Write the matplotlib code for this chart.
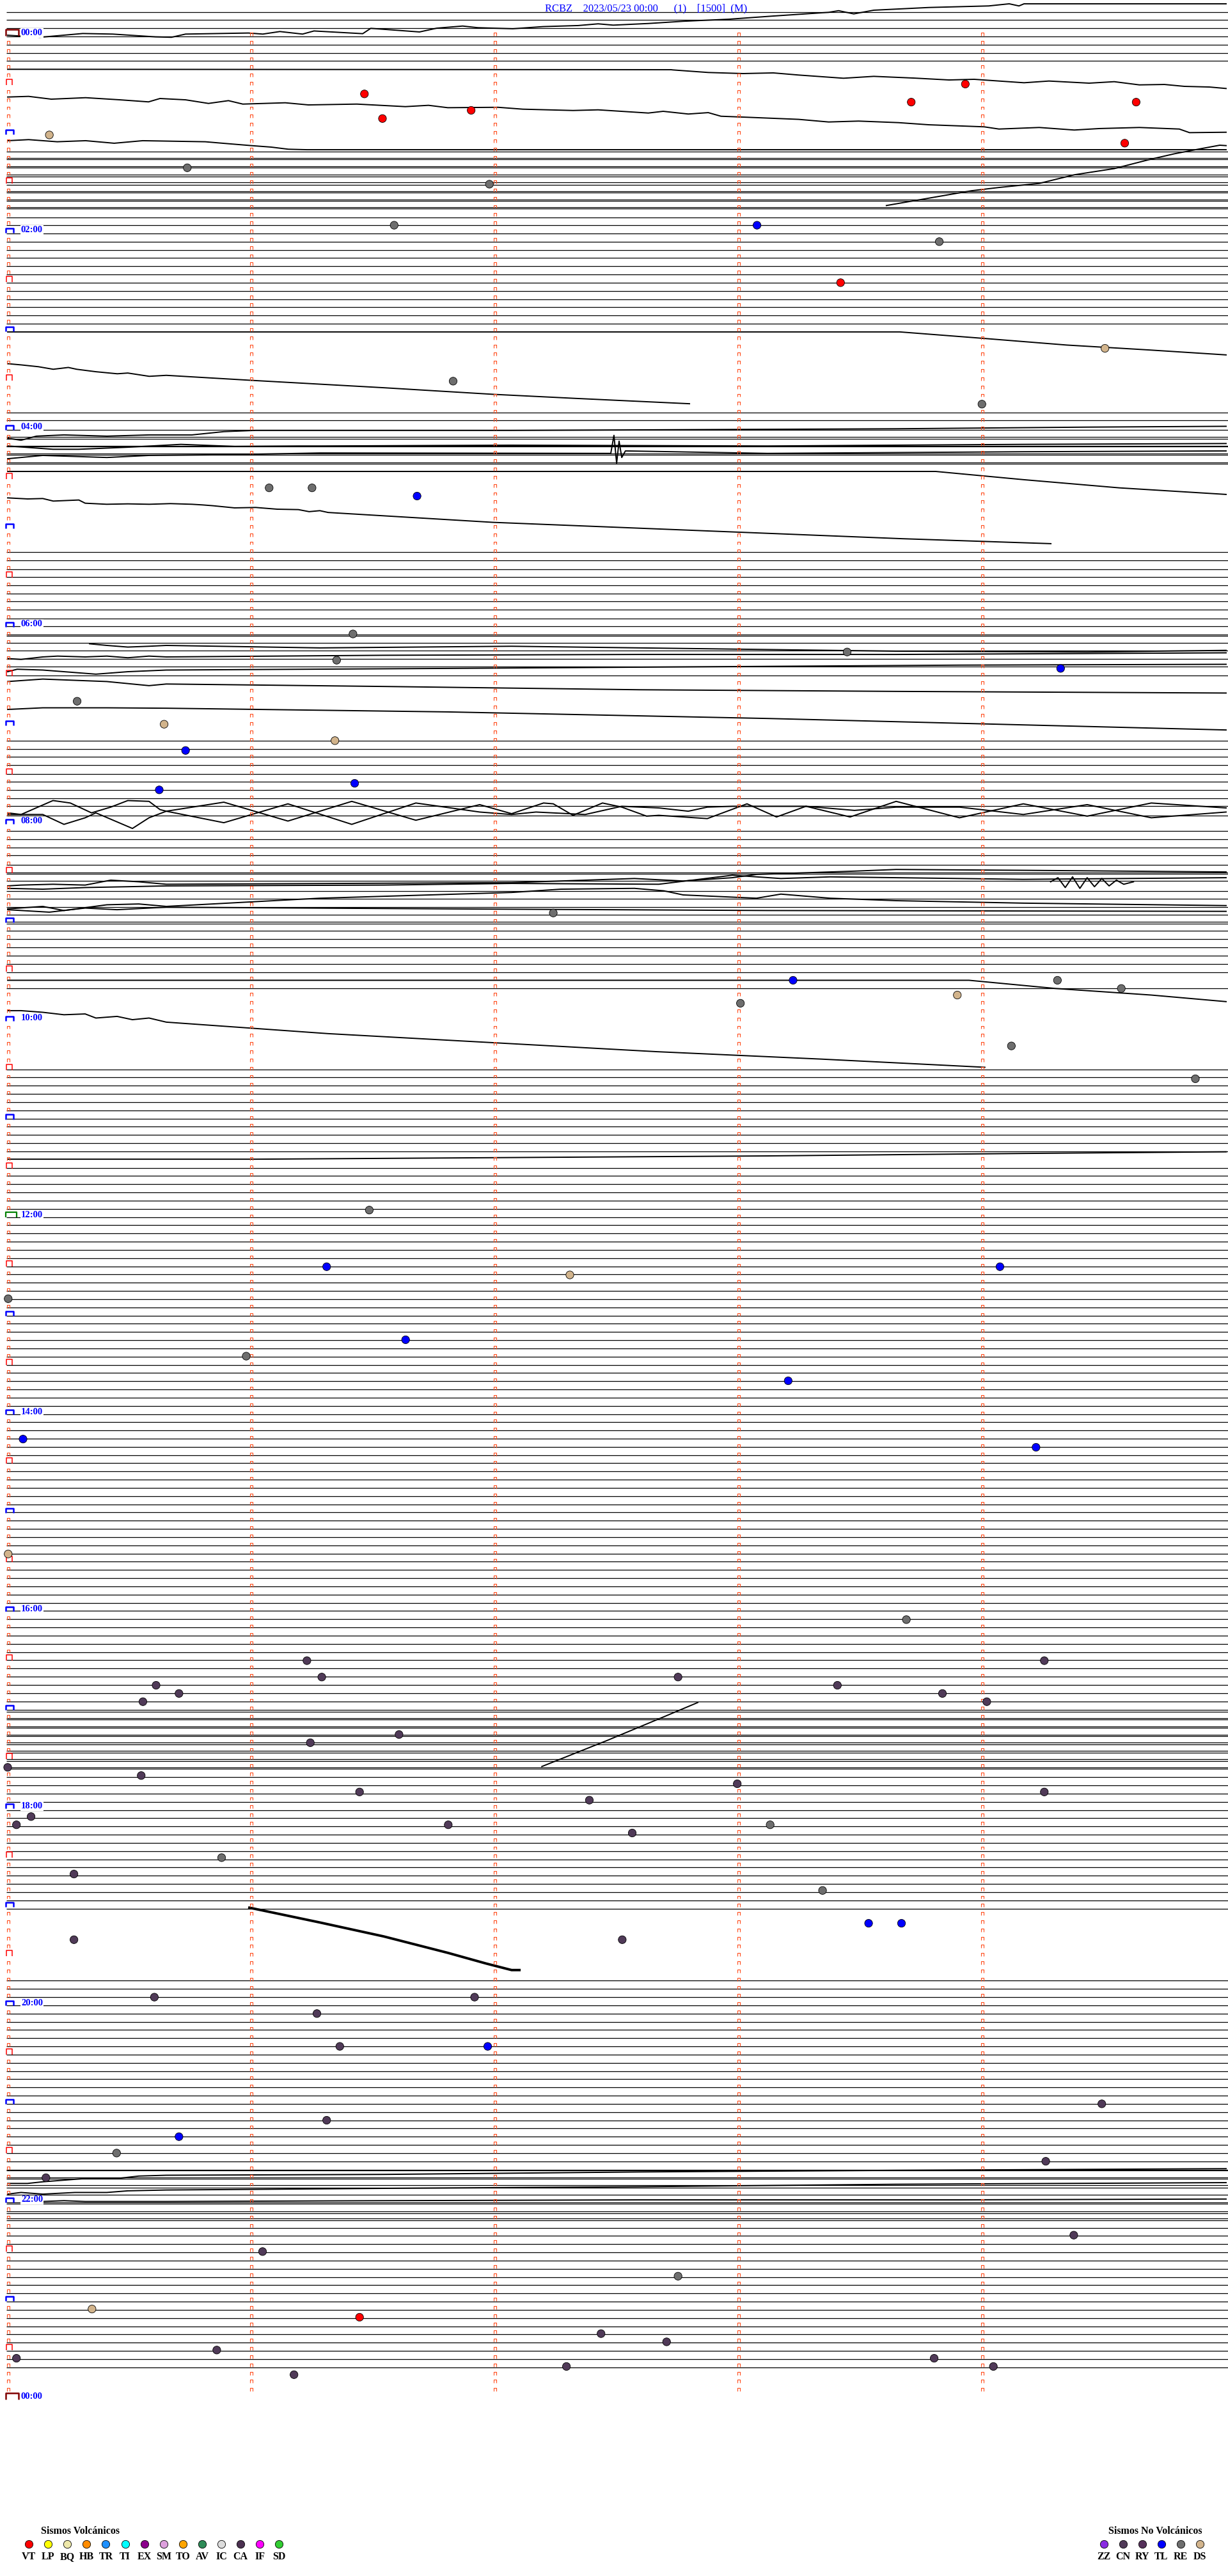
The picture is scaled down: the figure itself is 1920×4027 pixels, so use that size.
import matplotlib
matplotlib.use("Agg")
import matplotlib.pyplot as plt
from matplotlib.collections import LineCollection

# ---------------------------------------------------------------
# Helicorder RCBZ 2023/05/23 - one row = 5 minutes, 288 rows a day
# x = minute inside the row (0-5), y = row number (0 = 00:00)
# ---------------------------------------------------------------

# rows where the trace is clipped (flat line), row units
flat_00h = [-3, -2, -1, 0, 1, 2, 3, 14.0, 14.8, 15.0, 15.8, 16.0, 16.85, 17.05,
            17.8, 18.05, 18.85, 19.0, 19.85, 20.0, 20.8, 21.0, 22.05, 23.0]
flat_02h = [24, 25, 26, 27, 28, 29, 30, 31, 32, 33, 34, 35, 45.8, 46.8, 47.9]
flat_04h = [48.8, 49.0, 49.9, 50.0, 50.8, 51.0, 51.9, 52.1,
            62.8, 63.8, 64.9, 65.9, 66.9, 67.9, 68.8, 69.8, 70.9, 71.9]
flat_06h = [72.9, 73.0, 73.9, 74.8, 75.8, 76.8, 77.9, 85.8, 86.8, 87.8, 88.8,
            89.9, 90.8, 91.8, 92.8, 93.8, 94.9]
flat_08h = [96.8, 97.8, 98.8, 99.8, 100.9, 101.9, 102.0, 102.9, 104.1, 105.1,
            106.1, 107.0, 107.9, 108.1, 109.0, 110.0, 111.0, 112.0, 113.0,
            114.0, 116.0]
rows_10_17h = [r for r in range(126, 204) if r != 137]      # clipped rows
rows_17h_double = list(range(204, 212))                     # double clipped
rows_17_19h = list(range(212, 229))
rows_20_21h = list(range(237, 260))
flat_22h = [259.9, 260.0, 260.9, 261.0, 261.8, 262.1, 263.0, 263.9, 264.1,
            265.0, 265.2, 265.9, 266.1]
rows_22_24h = list(range(267, 285))

# drifting / active traces: (minute, row)
tr_00a = [(0, -0.15), (0.133, 0.1), (0.308, -0.36), (0.431, -0.29), (0.607, 0.05),
          (0.672, 0.1), (0.73, -0.29), (0.988, -0.42), (1.047, -0.29),
          (1.117, -0.6), (1.21, -0.29), (1.257, -0.67), (1.457, -0.34),
          (1.49, -0.99), (1.69, -0.55), (1.761, -1.01), (1.867, -1.27),
          (1.929, -1.07), (2.073, -0.94), (2.197, -1.2), (2.341, -1.33),
          (2.423, -1.54), (2.485, -1.38), (2.629, -1.58), (2.772, -1.85),
          (2.958, -2.1), (3.142, -2.49), (3.369, -2.94), (3.41, -3.14),
          (3.472, -2.75), (3.554, -3.2), (3.78, -3.53), (4.026, -3.72),
          (4.11, -3.98), (4.15, -3.72), (4.171, -3.98), (5.0, -3.98)]
tr_00b = [(0, 4.0), (2.722, 4.05), (2.731, 4.08), (2.875, 4.39), (3.018, 4.52),
          (3.142, 4.44), (3.246, 4.7), (3.43, 5.09), (3.554, 4.86), (3.719, 5.07),
          (3.863, 5.3), (3.966, 5.22), (4.068, 5.43), (4.171, 5.64), (4.273, 5.43),
          (4.438, 5.69), (4.541, 5.51), (4.644, 5.9), (4.747, 5.85), (4.829, 6.08),
          (4.932, 6.16), (5.0, 6.34)]
tr_00c = [(0, 7.38), (0.086, 7.3), (0.179, 7.64), (0.32, 7.46), (0.461, 7.72),
          (0.578, 7.97), (0.625, 7.56), (0.73, 7.72), (0.824, 8.16), (0.906, 7.82),
          (0.965, 8.24), (1.139, 8.08), (1.234, 8.34), (1.433, 8.24), (1.632, 8.55),
          (1.727, 8.39), (1.806, 8.68), (2.012, 8.63), (2.114, 8.86), (2.32, 9.02),
          (2.423, 8.94), (2.629, 9.33), (2.69, 9.12), (2.793, 9.45), (2.875, 9.28),
          (2.927, 9.72), (3.04, 9.85), (3.246, 10.1), (3.369, 10.42),
          (3.492, 10.31), (3.656, 10.5), (3.78, 10.76), (4.007, 11.01),
          (4.068, 11.28), (4.233, 11.09), (4.377, 11.4), (4.48, 11.22),
          (4.644, 11.09), (4.808, 11.28), (4.85, 11.72), (5.0, 11.67)]
tr_00d = [(0, 12.7), (0.086, 12.57), (0.203, 12.83), (0.32, 12.7), (0.437, 13.01),
          (0.554, 12.7), (0.811, 12.83), (0.882, 13.01), (1.0, 13.3),
          (1.081, 13.48), (1.152, 13.74), (1.228, 13.8), (5.0, 13.8)]
tr_01a = [(3.606, 20.6), (3.955, 18.8), (4.068, 18.4), (4.234, 17.9),
          (4.378, 16.85), (4.541, 16.1), (4.685, 15.0), (4.787, 14.3),
          (4.892, 13.7), (4.974, 13.25), (5.0, 13.3)]
tr_03a = [(0, 36.0), (3.661, 36.0), (4.01, 36.8), (4.346, 37.6), (4.685, 38.2),
          (5.0, 38.8)]
tr_03b = [(0, 39.87), (0.056, 40.02), (0.126, 40.24), (0.187, 40.55), (0.249, 40.33),
          (0.283, 40.55), (0.362, 40.85), (0.45, 41.1), (0.493, 41.01),
          (0.581, 41.41), (0.651, 41.29), (1.0, 41.9), (1.543, 42.8),
          (1.99, 43.6), (2.331, 44.1), (2.798, 44.75)]
tr_04a = [(0, 48.95), (0.055, 49.2), (0.118, 48.7), (0.231, 48.55), (0.407, 48.7),
          (0.58, 48.55), (0.756, 48.55), (0.887, 48.15), (1.018, 48.0),
          (1.281, 48.0), (2.068, 48.0), (2.856, 47.9), (3.643, 47.8),
          (4.43, 47.6), (5.0, 47.5)]
tr_04b = [(0, 49.9), (0.186, 50.3), (0.291, 50.3), (0.493, 50.05), (0.711, 49.7),
          (0.932, 49.95), (1.194, 49.9), (1.281, 49.9), (2.068, 49.8),
          (3.118, 49.9), (4.168, 49.7), (5.0, 49.6)]
tr_04c = [(0, 51.45), (0.144, 51.05), (0.407, 51.3), (0.58, 51.05), (0.932, 50.95),
          (1.018, 50.9), (1.281, 50.75), (2.475, 50.8), (2.488, 48.6),
          (2.499, 52.0), (2.509, 49.3), (2.52, 51.3), (2.535, 50.5),
          (3.118, 50.8), (4.168, 50.6), (5.0, 50.5)]
tr_04d = [(0, 53.0), (3.808, 53.0), (4.168, 54.0), (4.562, 55.0), (5.0, 55.8)]
tr_04e = [(0, 56.22), (0.082, 56.35), (0.144, 56.3), (0.187, 56.61), (0.292, 56.48),
          (0.318, 56.87), (0.406, 57.0), (0.493, 56.95), (0.581, 57.0),
          (0.668, 56.92), (0.756, 57.0), (0.8, 57.08), (0.843, 57.18),
          (0.931, 57.44), (1.018, 57.39), (1.106, 57.6), (1.193, 57.65),
          (1.237, 57.9), (1.281, 57.78), (1.315, 58.0), (1.99, 59.2), (3.0, 60.4),
          (3.675, 61.2), (4.281, 61.8)]
tr_06a = [(0.336, 74.0), (0.407, 74.2), (0.493, 74.4), (0.58, 74.3), (0.651, 74.2),
          (1.281, 74.5), (2.068, 74.3), (2.856, 74.6), (3.643, 74.9),
          (4.43, 75.0), (5.0, 74.8)]
tr_06b = [(0, 75.8), (0.055, 75.9), (0.144, 75.6), (0.205, 75.5), (0.318, 75.6),
          (0.407, 75.5), (0.493, 75.7), (0.58, 75.5), (0.651, 75.6),
          (1.543, 75.4), (2.593, 75.3), (3.643, 75.3), (5.0, 75.1)]
tr_06c = [(0, 77.4), (0.039, 77.1), (0.144, 77.2), (0.362, 77.7), (0.493, 77.4),
          (0.651, 77.2), (1.806, 77.0), (2.856, 76.8), (3.906, 76.6), (5.0, 76.5)]
tr_06d = [(0, 78.6), (0.144, 78.3), (0.407, 78.6), (0.58, 79.1), (0.651, 78.9),
          (1.543, 79.2), (2.593, 79.6), (3.643, 79.8), (5.0, 80.0)]
tr_06e = [(0, 82.0), (0.144, 81.8), (0.407, 81.8), (0.651, 81.85), (1.806, 82.3),
          (3.118, 83.1), (5.0, 84.5)]
tr_07a = [(0, 94.6), (0.055, 94.8), (0.186, 93.1), (0.257, 93.4), (0.344, 94.6),
          (0.423, 93.9), (0.493, 93.1), (0.58, 93.2), (0.625, 94.2), (0.651, 94.4),
          (0.887, 93.3), (1.15, 95.6), (1.412, 93.2), (1.675, 95.5), (1.937, 93.6),
          (2.068, 94.7), (2.199, 93.4), (2.239, 93.5), (2.32, 94.9), (2.441, 93.4),
          (2.52, 93.9), (2.622, 95.0), (2.672, 94.9), (2.871, 95.3), (3.034, 93.5),
          (3.155, 95.1), (3.276, 93.8), (3.457, 95.1), (3.646, 93.2), (3.906, 95.2),
          (4.168, 93.5), (4.43, 95.0), (4.693, 93.4), (5.0, 94.0)]
tr_07b = [(0, 94.8), (0.144, 94.8), (0.231, 96.0), (0.318, 95.2), (0.362, 94.6),
          (0.512, 96.5), (0.58, 95.2), (0.651, 94.4), (0.887, 95.8), (1.15, 93.5),
          (1.412, 96.0), (1.675, 93.4), (1.937, 94.5), (2.068, 94.8), (2.168, 94.5),
          (2.37, 94.8), (2.52, 93.8), (2.672, 94.0), (2.793, 94.4), (2.871, 93.9),
          (2.974, 93.8), (3.276, 93.8), (3.475, 94.3), (3.646, 93.9), (3.906, 93.9),
          (4.168, 94.8), (4.43, 93.6), (4.693, 95.2), (5.0, 94.5)]
tr_08a = [(0, 103.5), (0.055, 103.4), (0.186, 103.3), (0.318, 103.4), (0.423, 102.8),
          (0.538, 103.0), (0.651, 103.3), (2.068, 103.1), (2.37, 102.8),
          (2.572, 102.6), (2.772, 102.9), (2.974, 102.5), (3.073, 102.1),
          (3.475, 101.7), (3.646, 101.5), (4.168, 101.6), (5.0, 101.8)]
tr_08b = [(0, 103.8), (0.144, 103.9), (0.318, 103.7), (0.493, 103.6), (0.651, 103.5),
          (1.543, 103.4), (2.068, 103.2), (2.672, 103.3), (2.974, 102.2),
          (3.173, 102.6), (3.375, 102.4), (3.646, 102.5), (4.168, 102.7),
          (5.0, 102.5)]
tr_08c = [(0, 106.3), (0.144, 106.0), (0.231, 106.5), (0.407, 105.8), (0.538, 105.7),
          (0.651, 106.0), (1.281, 105.0), (2.068, 104.3), (2.27, 103.9),
          (2.572, 103.8), (2.693, 104.1), (2.772, 104.6), (3.073, 105.0),
          (3.173, 104.5), (3.375, 105.0), (3.646, 105.3), (4.168, 105.6),
          (5.0, 105.9)]
tr_08d = [(0, 106.4), (0.171, 106.7), (0.318, 106.2), (0.449, 106.4), (0.58, 106.2),
          (0.651, 106.1), (1.806, 106.3), (3.118, 106.5), (5.0, 106.6)]
tr_08burst = [(4.28, 103.0), (4.31, 102.5), (4.34, 103.7), (4.37, 102.4),
              (4.40, 103.8), (4.43, 102.5), (4.46, 103.6), (4.49, 102.6),
              (4.52, 103.5), (4.55, 102.8), (4.58, 103.3), (4.62, 103.0)]
tr_09a = [(0, 115.0), (3.945, 115.0), (4.3, 116.0), (4.693, 116.8), (5.0, 117.6)]
tr_09b = [(0, 118.7), (0.055, 118.7), (0.144, 118.9), (0.231, 119.2), (0.318, 119.1),
          (0.362, 119.6), (0.449, 119.4), (0.512, 119.8), (0.58, 119.6),
          (0.651, 120.1), (1.315, 121.5), (1.99, 122.6), (2.664, 123.7),
          (3.336, 124.6), (4.01, 125.6)]
tr_11a = [(0, 136.8), (1.018, 136.8), (2.068, 136.6), (3.118, 136.4),
          (4.168, 136.1), (5.0, 135.9)]
tr_17a = [(2.192, 210.8), (2.462, 207.6), (2.672, 205.0), (2.832, 203.0)]
tr_19a = [(0.992, 228.0), (1.281, 229.8), (1.543, 231.5), (1.806, 233.5),
          (1.963, 234.8), (2.068, 235.6), (2.1, 235.6)]
tr_21a = [(0, 261.6), (0.081, 261.6), (0.144, 261.4), (0.231, 261.2), (0.318, 261.0),
          (0.449, 261.0), (0.538, 260.7), (0.651, 260.6), (1.543, 260.5),
          (2.593, 260.2), (3.643, 260.0), (5.0, 259.8)]
tr_21b = [(0, 262.9), (0.055, 262.7), (0.144, 262.9), (0.276, 262.7), (0.407, 262.7),
          (0.493, 262.5), (0.651, 262.4), (1.543, 262.2), (2.593, 262.0),
          (3.643, 261.7), (5.0, 261.5)]
tr_22a = [(0.144, 263.8), (0.231, 263.7), (0.318, 263.8), (0.459, 263.8),
          (0.651, 263.8), (1.543, 263.7), (2.593, 263.6), (3.906, 263.6),
          (5.0, 263.5)]

# classified events: minute in row, row, type
ev_min = [1.464, 1.538, 1.902, 3.708, 3.930, 4.631, 4.584, 0.171, 0.737, 1.586,
          1.977, 3.075, 3.823, 3.418, 4.503, 1.828, 3.998, 1.073, 1.249, 1.680,
          1.417, 1.350, 3.445, 4.321, 0.285, 0.642, 0.730, 1.343, 0.622, 1.424,
          2.239, 3.223, 3.007, 3.897, 4.308, 4.570, 4.119, 4.874, 1.484, 1.309,
          2.307, 4.072, 0.002, 1.633, 0.979, 3.203, 0.063, 4.220, 0.002, 3.688,
          1.228, 4.254, 0.609, 1.289, 2.751, 3.405, 0.703, 0.555, 3.836, 4.018,
          1.242, 1.606, 0.0, 0.548, 2.994, 4.254, 1.444, 2.387, 0.096, 0.036,
          1.808, 2.563, 3.129, 0.878, 0.272, 3.344, 3.533, 3.668, 0.272, 2.522,
          0.602, 1.269, 1.916, 1.363, 1.970, 4.490, 1.309, 0.703, 0.447, 4.260,
          0.157, 4.375, 1.046, 2.751, 0.346, 1.444, 2.435, 2.704, 0.036, 0.858,
          1.175, 2.293, 3.802, 4.045]
ev_row = [7.0, 10.0, 9.0, 8.0, 5.8, 8.0, 13.0, 12.0, 16.0, 23.0,
          18.0, 23.0, 25.0, 30.0, 38.0, 42.0, 44.8, 55.0, 55.0, 56.0,
          72.8, 76.0, 75.0, 77.0, 81.0, 83.8, 87.0, 85.8, 91.8, 91.0,
          106.8, 115.0, 117.8, 116.8, 115.0, 116.0, 123.0, 127.0, 143.0, 149.9,
          150.9, 149.9, 153.8, 158.8, 160.8, 163.8, 170.9, 171.9, 184.9, 192.9,
          197.9, 197.9, 200.9, 199.9, 199.9, 200.9, 201.9, 202.9, 201.9, 202.9,
          207.9, 206.9, 210.9, 211.9, 212.9, 213.9, 213.9, 214.9, 216.9, 217.9,
          217.9, 218.9, 217.9, 221.9, 223.9, 225.9, 229.9, 229.9, 231.9, 231.9,
          238.9, 240.9, 238.9, 244.9, 244.9, 251.9, 253.9, 255.9, 257.9, 258.9,
          260.9, 267.9, 269.9, 272.9, 276.9, 277.9, 279.9, 280.9, 282.9, 281.9,
          284.9, 283.9, 282.9, 283.9]
ev_type = ["VT", "VT", "VT", "VT", "VT", "VT", "VT", "DS", "RE", "RE",
           "RE", "TL", "RE", "VT", "DS", "RE", "RE", "RE", "RE", "TL",
           "RE", "RE", "RE", "TL", "RE", "DS", "TL", "DS", "TL", "TL",
           "RE", "TL", "RE", "DS", "RE", "RE", "RE", "RE", "RE", "TL",
           "DS", "TL", "RE", "TL", "RE", "TL", "TL", "TL", "DS", "RE",
           "CN", "CN", "CN", "CN", "CN", "CN", "CN", "CN", "CN", "CN",
           "CN", "CN", "CN", "CN", "CN", "CN", "CN", "CN", "CN", "CN",
           "CN", "CN", "RE", "RE", "CN", "RE", "TL", "TL", "CN", "CN",
           "CN", "CN", "CN", "CN", "TL", "CN", "CN", "TL", "RE", "CN",
           "CN", "CN", "CN", "RE", "DS", "VT", "CN", "CN", "CN", "CN",
           "CN", "CN", "CN", "CN"]

# legend classes
volc_codes = ["VT", "LP", "BQ", "HB", "TR", "TI", "EX", "SM", "TO", "AV", "IC",
              "CA", "IF", "SD"]
volc_colors = ["#ff0000", "#ffff00", "#eee8aa", "#ff8c00", "#1e90ff", "#00ffff",
               "#8b008b", "#dda0dd", "#ffa500", "#2e8b57", "#dcdcdc", "#4b3050",
               "#ff00ff", "#32cd32"]
novolc_codes = ["ZZ", "CN", "RY", "TL", "RE", "DS"]
novolc_colors = ["#8a2be2", "#503a58", "#55305a", "#0000ff", "#6e6e6e", "#d2b48c"]

hour_rows = list(range(0, 289, 24))
n_rows = 288

# ---------------------------------------------------------------
W, H = 1920, 4027
fig = plt.figure(figsize=(W / 100, H / 100), dpi=100)
ax = fig.add_axes([0, 0, 1, 1])
ax.set_xlim(-12 / 381, 1908 / 381)
ax.set_ylim((H - 57) / 12.83, -57 / 12.83)
ax.axis("off")

serif = ["Liberation Serif", "DejaVu Serif"]

# clipped rows
levels = (flat_00h + flat_02h + flat_04h + flat_06h + flat_08h
          + [r - 0.15 for r in rows_10_17h]
          + [r - 0.1 for r in rows_17h_double] + [r + 0.1 for r in rows_17h_double]
          + [r + 0.1 for r in rows_17_19h]
          + [r - 0.1 for r in rows_20_21h]
          + flat_22h + rows_22_24h)
ax.hlines(levels, -0.005, 5.01, color="black", lw=0.9, zorder=2)

# active traces
traces = [tr_00a, tr_00b, tr_00c, tr_00d, tr_01a, tr_03a, tr_03b, tr_04a, tr_04b,
          tr_04c, tr_04d, tr_04e, tr_06a, tr_06b, tr_06c, tr_06d, tr_06e, tr_07a,
          tr_07b, tr_08a, tr_08b, tr_08c, tr_08d, tr_08burst, tr_09a, tr_09b,
          tr_11a, tr_17a, tr_21a, tr_21b, tr_22a]
for tr in traces:
    ax.plot([p[0] for p in tr], [p[1] for p in tr], color="black", lw=1.4,
            zorder=3)
ax.plot([p[0] for p in tr_19a], [p[1] for p in tr_19a], color="black", lw=2.8,
        zorder=3)

# minute marks (small "n" shapes)
def mark(x0, x1, r, h):
    b = r - 0.08
    return [(x0, b), (x0, b - h), (x1, b - h), (x1, b)]

small, left_red, left_blue = [], [], []
for r in range(n_rows):
    for m in (1, 2, 3, 4):
        small.append(mark(m - 0.006, m + 0.006, r, 0.38))
    if r == 0:
        continue
    if r % 12 == 6:
        left_red.append(mark(-0.005, 0.018, r, 0.7))
    elif r % 12 == 0 and r != 144:
        left_blue.append(mark(-0.008, 0.024, r, 0.55))
    elif r % 12 != 0:
        small.append(mark(-0.002, 0.008, r, 0.38))
ax.add_collection(LineCollection(small, colors="#ff4a1a", lw=0.8, zorder=4))
ax.add_collection(LineCollection(left_red, colors="#ff0000", lw=1.1, zorder=4))
ax.add_collection(LineCollection(left_blue, colors="#0000ff", lw=1.8, zorder=4))
ax.add_collection(LineCollection([mark(-0.008, 0.037, 144, 0.7)], colors="#008000",
                                 lw=1.6, zorder=4))
ax.add_collection(LineCollection([mark(-0.008, 0.045, 0, 0.75),
                                  mark(-0.008, 0.045, 288, 0.75)],
                                 colors="#800000", lw=1.8, zorder=4))

# hour labels
for r in hour_rows:
    ax.text(0.055, r - 0.4, "%02d:00" % ((r // 12) % 24), color="#0000ff",
            fontsize=10.5, fontweight="bold", family=serif, va="center", ha="left",
            zorder=5, bbox=dict(facecolor="white", edgecolor="none", pad=0.6))

# title
ax.text(2.62, -3.43, "RCBZ    2023/05/23 00:00      (1)    [1500]  (M)",
        color="#0000ff", fontsize=12, family=serif, ha="center", va="center")

# events
col_of = dict(zip(volc_codes + novolc_codes, volc_colors + novolc_colors))
ax.scatter(ev_min, ev_row, s=78, c=[col_of[t] for t in ev_type],
           edgecolors="black", linewidths=0.6, zorder=6)

# legends (figure pixels)
def fx(px):
    return px / W

def fy(py):
    return 1 - py / H

fig.text(fx(125), fy(3957), "Sismos Volcánicos", fontsize=11.5, fontweight="bold",
         family=serif, ha="center", va="center")
fig.text(fx(1806), fy(3957), "Sismos No Volcánicos", fontsize=11.5,
         fontweight="bold", family=serif, ha="center", va="center")
for i, (code, col) in enumerate(zip(volc_codes, volc_colors)):
    x = 45 + 30.1 * i
    ax.scatter([fx(x)], [fy(3977)], s=78, c=col, edgecolors="black", linewidths=0.6,
               transform=fig.transFigure, zorder=6, clip_on=False)
    fig.text(fx(x), fy(3997), code, fontsize=11.5, fontweight="bold", family=serif,
             ha="center", va="center")
for i, (code, col) in enumerate(zip(novolc_codes, novolc_colors)):
    x = 1726 + 29.9 * i
    ax.scatter([fx(x)], [fy(3977)], s=78, c=col, edgecolors="black", linewidths=0.6,
               transform=fig.transFigure, zorder=6, clip_on=False)
    fig.text(fx(x), fy(3997), code, fontsize=11.5, fontweight="bold", family=serif,
             ha="center", va="center")

fig.savefig("out.png", dpi=100, facecolor="white")
